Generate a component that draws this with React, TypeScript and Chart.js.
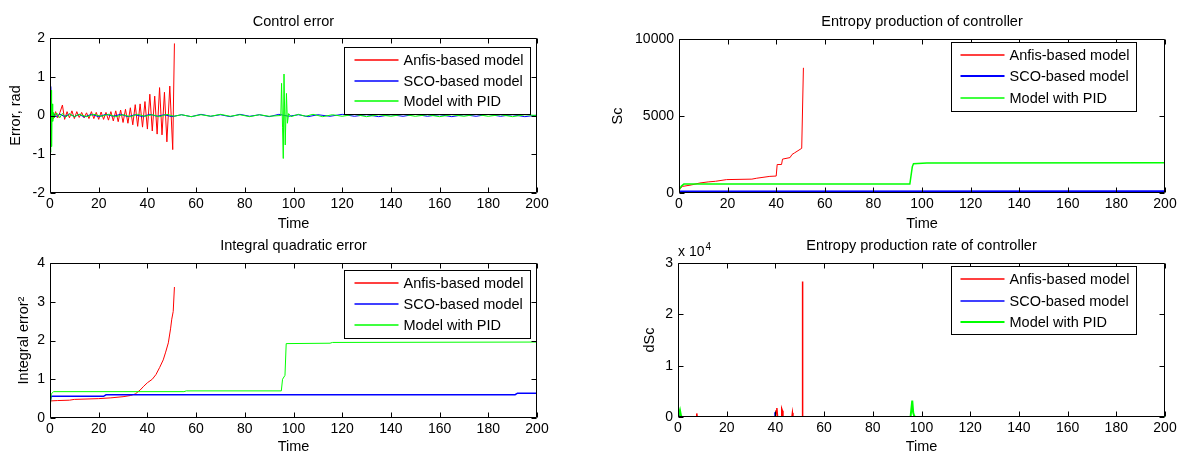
import React, { useEffect, useRef } from "react";
import { Chart, registerables } from "chart.js";

Chart.register(...registerables);
Chart.defaults.font.family = "'Liberation Sans', Arial, sans-serif";
Chart.defaults.color = "#000";

// ---------- shared ----------
const SERIES_LABELS = ["Anfis-based model", "SCO-based model", "Model with PID"];
const SERIES_COLORS = ["#ff0000", "#0000ff", "#00ff00"];
const TIME_TICK_STEP = 20;

// ---------- Control error ----------
const ERR_T_ANFIS = [0, 0.6, 1.4, 2.3, 3.2, 4.1, 5.1, 6, 7, 8, 9, 10, 11, 12, 13, 14, 15, 16, 17, 18, 19, 20, 21, 22, 23, 24, 25, 26, 27, 28, 29, 30, 31, 32, 33, 34, 35, 36, 37, 38, 39, 40, 41, 42, 43, 44, 45, 46, 47, 48, 49.2, 50.4, 51.1];
const ERR_ANFIS = [0.02, 0.1, -0.08, 0.1, -0.06, 0.08, 0.27, -0.1, 0.1, -0.06, 0.12, -0.08, 0.1, -0.05, 0.08, -0.06, 0.07, -0.08, 0.1, -0.08, 0.08, -0.1, 0.09, -0.1, 0.08, -0.12, 0.1, -0.14, 0.12, -0.16, 0.14, -0.18, 0.16, -0.2, 0.2, -0.24, 0.28, -0.28, 0.3, -0.3, 0.36, -0.35, 0.55, -0.4, 0.5, -0.48, 0.72, -0.5, 0.6, -0.68, 0.76, -0.88, 1.86];
const ERR_T_SCO = [0, 0.3, 0.6, 0.9, 1.5, 2.5, 4, 6, 8, 10, 12, 14, 17, 20, 23, 26, 29, 32, 35, 38, 41, 44, 47, 50, 54, 58, 62, 66, 70, 74, 78, 82, 86, 90, 94, 98, 102, 106, 110, 115, 120, 125, 130, 135, 140, 145, 150, 155, 160, 165, 170, 175, 180, 185, 190, 195, 200];
const ERR_SCO = [0, 0.75, 0.1, -0.06, 0.05, -0.04, 0.04, -0.03, 0.04, -0.03, 0.03, -0.04, 0.03, -0.03, 0.03, -0.02, 0.03, -0.03, 0.02, -0.03, 0.03, -0.02, 0.02, -0.03, 0.02, -0.03, 0.03, -0.02, 0.02, -0.03, 0.03, -0.02, 0.02, -0.03, 0.03, -0.02, 0.02, -0.03, 0.02, -0.02, 0.03, -0.02, 0.02, -0.03, 0.02, -0.02, 0.03, -0.02, 0.02, -0.03, 0.02, -0.02, 0.03, -0.02, 0.02, -0.03, 0.01];
const ERR_T_PID = [0, 0.15, 0.35, 0.5, 0.65, 0.85, 1.1, 1.4, 1.8, 2.3, 3, 4, 5, 6.5, 8, 10, 12, 15, 18, 21, 24, 27, 30, 33, 36, 39, 42, 45, 48, 51, 54, 58, 62, 66, 70, 74, 78, 82, 86, 90, 94.8, 95.1, 95.5, 95.8, 96.1, 96.6, 97.1, 97.5, 98, 99, 102, 105, 108, 112, 116, 120, 125, 130, 135, 140, 145, 150, 155, 160, 165, 170, 175, 180, 185, 190, 195, 200];
const ERR_PID = [-0.2, 0.5, -0.95, 0.65, -0.8, 0.3, -0.15, 0.08, -0.06, 0.05, 0.05, -0.06, 0.05, -0.04, 0.04, -0.03, 0.03, -0.03, 0.03, -0.02, 0.03, -0.03, 0.02, -0.03, 0.03, -0.02, 0.02, -0.03, 0.03, -0.02, 0.02, -0.03, 0.02, -0.02, 0.03, -0.02, 0.02, -0.03, 0.02, -0.02, 0.0, 0.83, -0.3, -1.11, 1.07, -0.76, 0.57, -0.2, 0.05, -0.03, 0.03, -0.02, 0.03, -0.03, 0.02, -0.02, 0.03, -0.03, 0.02, -0.02, 0.03, -0.02, 0.02, -0.03, 0.02, -0.02, 0.03, -0.02, 0.02, -0.03, 0.02, 0.0];
const ERR_Y_TICKS = { min: -2, max: 2, step: 1 };

// ---------- Integral quadratic error ----------
const IQE_T_ANFIS = [0, 3, 8, 10, 20, 25, 30, 33, 35, 37, 38.5, 40, 42, 43.5, 45, 46.5, 47.5, 48.6, 49.5, 50, 50.6, 51.1];
const IQE_ANFIS = [0.44, 0.45, 0.46, 0.48, 0.5, 0.52, 0.55, 0.58, 0.62, 0.72, 0.82, 0.91, 1.0, 1.12, 1.3, 1.5, 1.7, 1.94, 2.3, 2.55, 2.75, 3.38];
const IQE_T_SCO = [0, 0.5, 22, 23, 191, 192, 200];
const IQE_SCO = [0.4, 0.56, 0.56, 0.6, 0.6, 0.64, 0.64];
const IQE_T_PID = [0, 0.5, 1.5, 55, 56, 95, 95.5, 96.5, 97, 115, 116, 200];
const IQE_PID = [0.2, 0.62, 0.68, 0.68, 0.7, 0.7, 1.0, 1.1, 1.92, 1.93, 1.95, 1.96];
const IQE_Y_TICKS = { min: 0, max: 4, step: 1 };

// ---------- Entropy production of controller ----------
const SC_T_ANFIS = [0, 0.5, 1.5, 5, 8.6, 12, 15, 19.6, 30, 32, 37.4, 40, 40.4, 42.2, 42.6, 45.7, 46.5, 47.5, 50.5, 51.2];
const SC_ANFIS = [150, 300, 430, 520, 650, 720, 760, 870, 900, 960, 1080, 1100, 1850, 1850, 2200, 2300, 2500, 2600, 2900, 8130];
const SC_T_SCO = [0, 200];
const SC_SCO = [100, 110];
const SC_T_PID = [0, 1, 2, 95, 96, 96.5, 102, 200];
const SC_PID = [200, 450, 580, 580, 1700, 1900, 1950, 1960];
const SC_Y_TICKS = { min: 0, max: 10000, step: 5000 };

// ---------- Entropy production rate of controller ----------
const DSC_T_ANFIS = [0, 0.2, 0.6, 1, 7.5, 7.7, 7.9, 40, 40.3, 40.6, 40.9, 42.4, 42.6, 42.9, 43.1, 46.8, 47, 47.2, 50.95, 51.1, 51.25];
const DSC_ANFIS = [0, 900, 200, 0, 0, 700, 0, 0, 1200, 1750, 0, 0, 1600, 1200, 0, 0, 800, 0, 0, 26400, 0];
const DSC_T_SCO = [0, 0.3, 0.6, 39.6, 39.8, 40, 200];
const DSC_SCO = [0, 500, 0, 0, 900, 0, 0];
const DSC_T_PID = [0, 0.8, 1.2, 1.6, 95.5, 96.2, 96.6, 97, 97.5, 200];
const DSC_PID = [0, 1300, 300, 0, 0, 3200, 800, 200, 0, 0];
const DSC_Y_TICKS = { min: 0, max: 30000, step: 10000 };
const DSC_EXPONENT = 4;

// ---------- plugins ----------
const boxPlugin = {
  id: "matlabBox",
  afterDatasetsDraw(chart: any, _args: any, opts: any) {
    const { ctx, chartArea: a, scales } = chart;
    const L = Math.round(a.left) + 0.5;
    const R = Math.round(a.right) - 0.5;
    const T = Math.round(a.top) + 0.5;
    const B = Math.round(a.bottom) - 0.5;
    ctx.save();
    ctx.strokeStyle = "#000";
    ctx.lineWidth = 1;
    ctx.beginPath();
    ctx.rect(L, T, R - L, B - T);
    const tl = 5;
    scales.x.ticks.forEach((t: any) => {
      const px = Math.round(scales.x.getPixelForValue(t.value)) + 0.5;
      ctx.moveTo(px, B);
      ctx.lineTo(px, B - tl);
      ctx.moveTo(px, T);
      ctx.lineTo(px, T + tl);
    });
    scales.y.ticks.forEach((t: any) => {
      const py = Math.round(scales.y.getPixelForValue(t.value)) + 0.5;
      ctx.moveTo(L, py);
      ctx.lineTo(L + tl, py);
      ctx.moveTo(R, py);
      ctx.lineTo(R - tl, py);
    });
    ctx.stroke();
    if (opts && opts.exponent) {
      ctx.fillStyle = "#000";
      ctx.textBaseline = "alphabetic";
      ctx.textAlign = "left";
      ctx.font = "14px 'Liberation Sans', Arial, sans-serif";
      const base = "x 10";
      const x0 = a.left;
      const y0 = a.top - 7;
      ctx.fillText(base, x0, y0);
      const w = ctx.measureText(base).width;
      ctx.font = "10px 'Liberation Sans', Arial, sans-serif";
      ctx.fillText(String(opts.exponent), x0 + w + 1, y0 - 6);
    }
    ctx.restore();
  },
};

const legendPlugin = {
  id: "matlabLegend",
  afterDraw(chart: any, _args: any, o: any) {
    const { ctx, chartArea: a } = chart;
    const right = Math.round(a.right - o.right) + 0.5;
    const top = Math.round(a.top + o.top) + 0.5;
    const left = right - o.width;
    ctx.save();
    ctx.fillStyle = "#fff";
    ctx.fillRect(left, top, o.width, o.height);
    ctx.strokeStyle = "#000";
    ctx.lineWidth = 1;
    ctx.strokeRect(left, top, o.width, o.height);
    ctx.font = "14.5px 'Liberation Sans', Arial, sans-serif";
    ctx.textBaseline = "middle";
    ctx.textAlign = "left";
    chart.data.datasets.forEach((ds: any, i: number) => {
      const yc = top + o.first + i * o.spacing;
      const w = Math.max(1.4, ds.legendWidth || 1);
      ctx.strokeStyle = ds.borderColor;
      ctx.lineWidth = w;
      ctx.beginPath();
      ctx.moveTo(left + o.lineStart, Math.round(yc));
      ctx.lineTo(left + o.lineEnd, Math.round(yc));
      ctx.stroke();
      ctx.fillStyle = "#000";
      ctx.fillText(ds.label, left + o.textX, yc + 1);
    });
    ctx.restore();
  },
};

function pairs(t: number[], v: number[]) {
  return t.map((x, i) => ({ x, y: v[i] }));
}

type Panel = {
  title: string;
  yTitle: string;
  times: number[][];
  values: number[][];
  widths: number[];
  yTicks: { min: number; max: number; step: number };
  tickCb?: (v: number) => string;
  exponent?: number;
  padding: { left: number; top: number; right: number; bottom: number };
  titlePad: { top: number; bottom: number };
  yW: number;
  yTitlePad: number;
  xH: number;
  xTitlePad: number;
  legend: any;
};

const PANELS: Panel[] = [
  {
    title: "Control error",
    yTitle: "Error, rad",
    times: [ERR_T_ANFIS, ERR_T_SCO, ERR_T_PID],
    values: [ERR_ANFIS, ERR_SCO, ERR_PID],
    widths: [1, 1, 1],
    yTicks: ERR_Y_TICKS,
    padding: { left: 0, top: 0, right: 642, bottom: 218 },
    titlePad: { top: 13.3, bottom: 7.3 },
    yW: 50,
    yTitlePad: 7.3,
    xH: 45,
    xTitlePad: 5.3,
    legend: { right: 7, top: 9, width: 186, height: 67, first: 12.5, spacing: 20.7, lineStart: 10, lineEnd: 54, textX: 59 },
  },
  {
    title: "Integral quadratic error",
    yTitle: "Integral error\u00B2",
    times: [IQE_T_ANFIS, IQE_T_SCO, IQE_T_PID],
    values: [IQE_ANFIS, IQE_SCO, IQE_PID],
    widths: [1, 1.5, 1],
    yTicks: IQE_Y_TICKS,
    padding: { left: 0, top: 225, right: 642, bottom: 0 },
    titlePad: { top: 11.8, bottom: 8.8 },
    yW: 50,
    yTitlePad: 15.3,
    xH: 38,
    xTitlePad: 0,
    legend: { right: 7, top: 7, width: 186, height: 68, first: 12.7, spacing: 20.7, lineStart: 10, lineEnd: 54, textX: 59 },
  },
  {
    title: "Entropy production of controller",
    yTitle: "Sc",
    times: [SC_T_ANFIS, SC_T_SCO, SC_T_PID],
    values: [SC_ANFIS, SC_SCO, SC_PID],
    widths: [1, 2, 1.5],
    yTicks: SC_Y_TICKS,
    tickCb: (v: number) => String(v),
    padding: { left: 590, top: 0, right: 14, bottom: 218 },
    titlePad: { top: 13.3, bottom: 8.3 },
    yW: 89,
    yTitlePad: 19.3,
    xH: 45,
    xTitlePad: 5.3,
    legend: { right: 29, top: 3, width: 185, height: 69, first: 12, spacing: 21.8, lineStart: 9, lineEnd: 53, textX: 58 },
  },
  {
    title: "Entropy production rate of controller",
    yTitle: "dSc",
    times: [DSC_T_ANFIS, DSC_T_SCO, DSC_T_PID],
    values: [DSC_ANFIS, DSC_SCO, DSC_PID],
    widths: [1.5, 1, 2],
    yTicks: DSC_Y_TICKS,
    tickCb: (v: number) => String(v / Math.pow(10, DSC_EXPONENT)),
    exponent: DSC_EXPONENT,
    padding: { left: 590, top: 225, right: 14, bottom: 0 },
    titlePad: { top: 11.8, bottom: 8.8 },
    yW: 88,
    yTitlePad: 51.3,
    xH: 39,
    xTitlePad: 0,
    legend: { right: 29, top: 3, width: 185, height: 68, first: 12.3, spacing: 21.7, lineStart: 9, lineEnd: 53, textX: 58 },
  },
];

const ORDERS = [2, 1, 0];

function makeConfig(p: Panel): any {
  return {
    type: "line",
    data: {
      datasets: SERIES_LABELS.map((label, i) => ({
        label,
        data: pairs(p.times[i], p.values[i]),
        borderColor: SERIES_COLORS[i],
        backgroundColor: SERIES_COLORS[i],
        borderWidth: p.widths[i],
        legendWidth: p.widths[i],
        pointRadius: 0,
        pointHoverRadius: 0,
        fill: false,
        tension: 0,
        order: ORDERS[i],
      })),
    },
    options: {
      animation: false,
      responsive: false,
      maintainAspectRatio: false,
      events: [],
      layout: { padding: p.padding },
      plugins: {
        legend: { display: false },
        tooltip: { enabled: false },
        title: {
          display: true,
          text: p.title,
          fullSize: false,
          color: "#000",
          font: { size: 14.5, weight: "normal" },
          padding: p.titlePad,
        },
        matlabBox: { exponent: p.exponent },
        matlabLegend: p.legend,
      },
      scales: {
        x: {
          type: "linear",
          min: 0,
          max: 200,
          grid: { display: false, drawTicks: false },
          border: { display: false },
          ticks: { stepSize: TIME_TICK_STEP, padding: 3, color: "#000", font: { size: 14 }, maxRotation: 0, autoSkip: false },
          title: { display: true, text: "Time", color: "#000", font: { size: 14.5 }, padding: { top: 0, bottom: p.xTitlePad } },
          afterFit: (s: any) => {
            s.height = p.xH;
            s.paddingLeft = 0;
            s.paddingRight = 0;
          },
        },
        y: {
          type: "linear",
          min: p.yTicks.min,
          max: p.yTicks.max,
          grid: { display: false, drawTicks: false },
          border: { display: false },
          ticks: {
            stepSize: p.yTicks.step,
            padding: 5,
            color: "#000",
            font: { size: 14 },
            autoSkip: false,
            callback: p.tickCb ? (v: any) => p.tickCb!(Number(v)) : undefined,
          },
          title: { display: true, text: p.yTitle, color: "#000", font: { size: 14.5 }, padding: { top: p.yTitlePad, bottom: 0 } },
          afterFit: (s: any) => {
            s.width = p.yW;
            s.paddingTop = 0;
            s.paddingBottom = 0;
          },
        },
      },
    },
    plugins: [boxPlugin, legendPlugin],
  };
}

function PanelChart({ panel }: { panel: Panel }) {
  const ref = useRef<HTMLCanvasElement>(null);
  useEffect(() => {
    if (!ref.current) return;
    const chart = new Chart(ref.current, makeConfig(panel));
    return () => chart.destroy();
  }, [panel]);
  return (
    <canvas
      ref={ref}
      width={1179}
      height={456}
      style={{ position: "absolute", left: 0, top: 0, width: 1179, height: 456 }}
    />
  );
}

export default function App() {
  return (
    <div style={{ position: "absolute", left: 0, top: 0, width: 1179, height: 456, background: "#fff", overflow: "hidden" }}>
      {PANELS.map((p) => (
        <PanelChart key={p.title} panel={p} />
      ))}
    </div>
  );
}
